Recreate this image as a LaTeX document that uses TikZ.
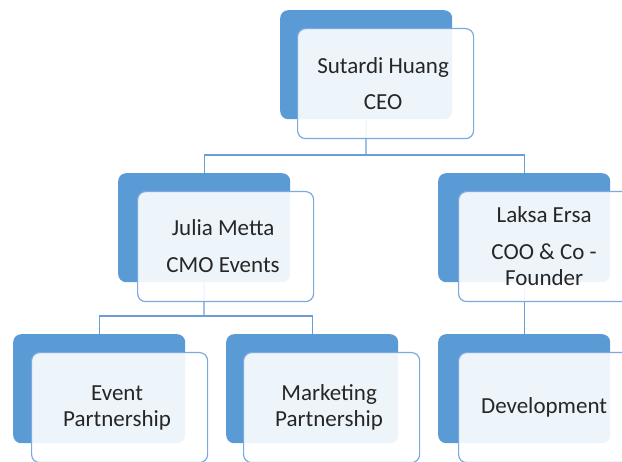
\documentclass[tikz,border=0pt]{standalone}
\usepackage{fontspec}
\setmainfont{Carlito}
\definecolor{cblue}{HTML}{5B9BD5}
\definecolor{cedge}{HTML}{7BAAE0}
\definecolor{cline}{HTML}{6A9FD6}
\definecolor{ctext}{HTML}{262626}
\newcommand\rsh{\kern5pt}
\begin{document}
\begin{tikzpicture}[x=1pt,y=-1pt,
  backbox/.style={fill=cblue, rounded corners=8pt, minimum width=172pt, minimum height=109pt, anchor=north west, inner sep=0pt},
  frontbox/.style={draw=cedge, line width=1.2pt, fill=white, fill opacity=0.9, text opacity=1, rounded corners=8pt, minimum width=176pt, minimum height=110pt, anchor=north west, inner sep=0pt, align=center, text=ctext, font=\fontsize{23}{26}\selectfont},
  conn/.style={draw=cline, line width=1.3pt}]
\useasboundingbox (0,0) rectangle (622,462);
% back boxes
\node[backbox] (ceoB) at (280,10) {};
\node[backbox] (juliaB) at (118,173) {};
\node[backbox] (laksaB) at (438,173) {};
\node[backbox] (eventB) at (13,334) {};
\node[backbox] (marketB) at (226,334) {};
\node[backbox] (devB) at (438,334) {};
% connectors
\coordinate (bus1) at (366,155);
\coordinate (bus2) at (204,316);
\draw[conn] (ceoB.south) -- (bus1);
\draw[conn] (juliaB.north) |- (bus1);
\draw[conn] (laksaB.north) |- (bus1);
\draw[conn] (juliaB.south) -- (bus2);
\draw[conn] (eventB.north) |- (bus2);
\draw[conn] (marketB.north) |- (bus2);
\draw[conn] (laksaB.south) -- (devB.north);
% front boxes
\node[frontbox] (ceo) at (297,28) {Sutardi Huang\rsh\\[10pt]CEO\rsh};
\node[frontbox] (julia) at (137,191) {Julia Metta\rsh\\[11pt]CMO Events\rsh};
\node[frontbox] (laksa) at (458,191) {Laksa Ersa\rsh\\[11pt]COO \& Co -\rsh\\Founder\rsh};
\node[frontbox] (event) at (31,352) {Event\rsh\\Partnership\rsh};
\node[frontbox] (market) at (243,352) {Marketing\rsh\\Partnership\rsh};
\node[frontbox] (dev) at (458,352) {Development\rsh};
\end{tikzpicture}
\end{document}
